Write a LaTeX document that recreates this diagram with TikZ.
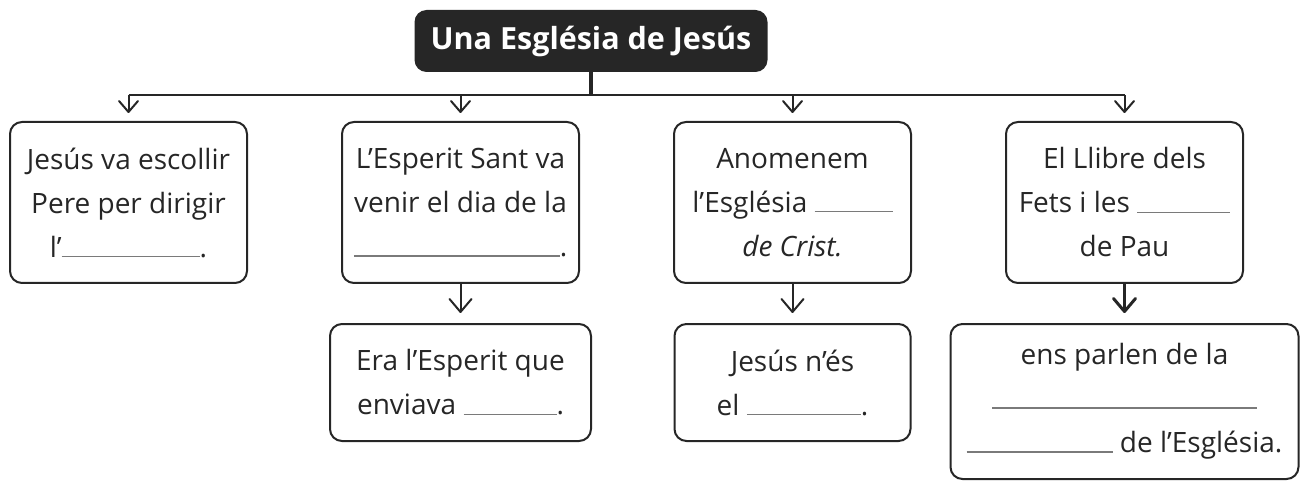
\documentclass[tikz,border=0pt]{standalone}
\usepackage{fontspec}
\setmainfont{Open Sans}
\usepackage{xcolor}
\usetikzlibrary{positioning}
\usetikzlibrary{arrows.meta}
\definecolor{inkgray}{HTML}{262626}
\definecolor{blankgray}{HTML}{7A7A7A}
\newcommand{\blank}[1]{\textcolor{blankgray}{\rule{#1}{1.3pt}}}
\newcommand{\boxfont}{\fontsize{28pt}{44pt}\selectfont}

\begin{document}
\begin{tikzpicture}[x=1pt,y=1pt,node distance=39pt and 93pt,
    box/.style={draw=inkgray,line width=2pt,rounded corners=12pt,align=center,
      inner sep=0pt,text=inkgray,font=\boxfont},
    toprow/.style={box,minimum width=237pt,minimum height=161pt},
    title/.style={fill=inkgray,text=white,rounded corners=12pt,inner sep=0pt,
      minimum width=353pt,minimum height=62pt,font=\bfseries\fontsize{30.5pt}{36pt}\selectfont},
    arr/.style={draw=inkgray,line width=2pt,-{Straight Barb[length=11pt,width=19pt,line cap=round,line join=round]},shorten >=8pt},
    arrlow/.style={arr,shorten >=10pt,-{Straight Barb[length=13pt,width=22pt,line cap=round,line join=round]}}]
   \useasboundingbox (0,0) rectangle (1302,-481);
   \node[title] (t_esglesia) at (591,-41) {Una Església de Jesús};
   \node[toprow] (b_pere) at (128.5,-202.5) {Jesús va escollir\\Pere per dirigir\\l’\blank{138pt}.};
   \node[toprow] (b_esperit) [right=of b_pere] {L’Esperit Sant va\\venir el dia de la\\\blank{206pt}.};
   \node[toprow] (b_crist) [right=of b_esperit] {Anomenem\\l’Església \blank{78pt}\\\textit{de Crist.}};
   \node[toprow] (b_pau) [right=of b_crist] {El Llibre dels\\Fets i les \blank{93pt}\\de Pau};
   \node[box,minimum width=261pt,minimum height=117pt] (b_envia) [below=of b_esperit] {Era l’Esperit que\\enviava \blank{93pt}.};
   \node[box,minimum width=236pt,minimum height=117pt] (b_jesus) [below=of b_crist] {Jesús n’és\\el \blank{114pt}.};
   \node[box,minimum width=348pt,minimum height=155pt] (b_parlen) [below=of b_pau] {ens parlen de la\\\blank{265pt}\\\blank{146pt} de l’Església.};
   % branques
   \path (t_esglesia.south) ++(0,-23) coordinate (bus);
   \draw[inkgray,line width=4pt] (t_esglesia.south) -- (bus);
   \draw[inkgray,line width=2pt] (b_pere |- bus) -- (b_pau |- bus);
   \draw[arr] (b_pere |- bus) -- (b_pere.north);
   \draw[arr] (b_esperit |- bus) -- (b_esperit.north);
   \draw[arr] (b_crist |- bus) -- (b_crist.north);
   \draw[arr] (b_pau |- bus) -- (b_pau.north);
   \draw[arrlow] (b_esperit) -- (b_envia);
   \draw[arrlow] (b_crist) -- (b_jesus);
   \draw[arrlow,line width=3pt] (b_pau) -- (b_parlen);
\end{tikzpicture}
\end{document}
